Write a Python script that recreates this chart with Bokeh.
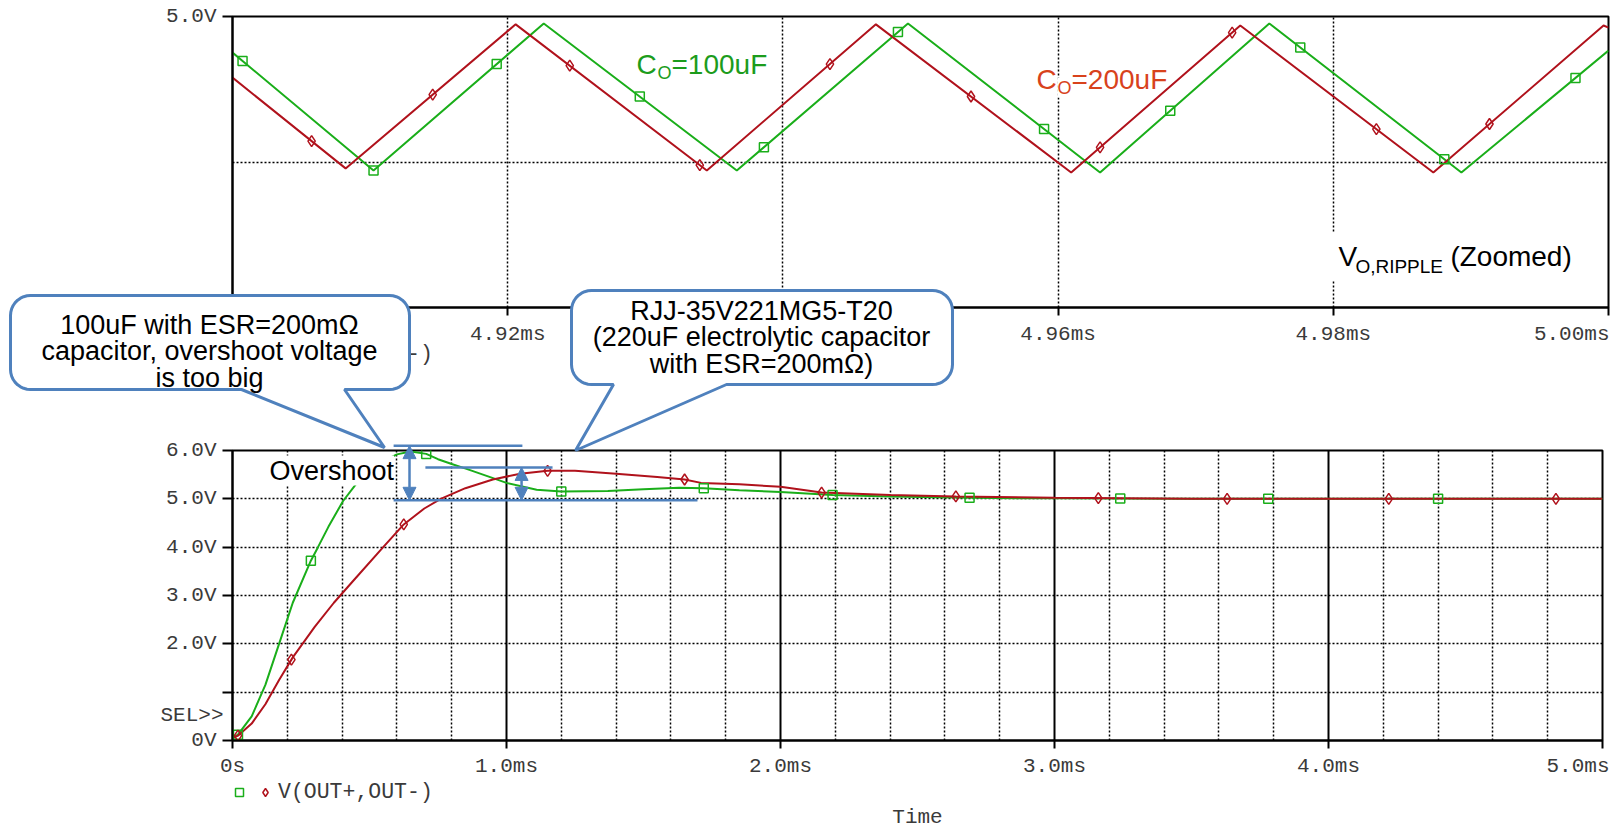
import numpy as np
from bokeh.plotting import figure
from bokeh.layouts import column
from bokeh.models import (Range1d, FixedTicker, Grid, Label, PolyAnnotation, Arrow,
                          NormalHead, Legend, LegendItem, PrintfTickFormatter)
from bokeh.embed import file_html
from bokeh.resources import INLINE

# ---------------- steady-state output ripple, 4.90 ms .. 5.00 ms ----------------
ripple_t_100uf = [4.900, 4.91025, 4.92262, 4.93665, 4.94909, 4.96305, 4.97535, 4.98931, 5.000]
ripple_v_100uf = [4.99876, 4.99471, 4.99976, 4.99471, 4.99976, 4.99464, 4.99976, 4.99464, 4.99883]
ripple_t_200uf = [4.900, 4.90822, 4.92058, 4.93447, 4.94676, 4.96095, 4.97324, 4.98727, 4.99964, 5.000]
ripple_v_200uf = [4.99790, 4.99478, 4.99973, 4.99471, 4.99973, 4.99464, 4.99969, 4.99464, 4.99969, 4.99962]
ripple_mark_t_100uf = [4.90073, 4.91025, 4.91920, 4.92960, 4.93862, 4.94836, 4.95898, 4.96815,
                       4.97760, 4.98807, 4.99760]
ripple_mark_t_200uf = [4.90575, 4.91455, 4.92451, 4.93396, 4.94342, 4.95367, 4.96305, 4.97265,
                       4.98313, 4.99135]
ripple_x_ticks = [4.90, 4.92, 4.94, 4.96, 4.98, 5.00]
ripple_y_ticks = [5.0]

# ---------------- start-up transient, 0 .. 5 ms ----------------
startup_t_100uf = [0.00, 0.02, 0.07, 0.12, 0.17, 0.22, 0.286, 0.312, 0.35, 0.403, 0.45, 0.50, 0.55,
                   0.60, 0.65, 0.707, 0.75, 0.80, 0.854, 0.93, 1.00, 1.11, 1.20, 1.37, 1.50, 1.63,
                   1.72, 1.85, 2.00, 2.19, 2.40, 2.69, 3.00, 3.50, 4.00, 5.00]
startup_v_100uf = [0.05, 0.12, 0.50, 1.15, 2.00, 2.85, 3.72, 4.00, 4.42, 4.95, 5.30, 5.58, 5.78,
                   5.92, 5.98, 5.93, 5.82, 5.72, 5.62, 5.47, 5.33, 5.19, 5.15, 5.16, 5.20, 5.23,
                   5.22, 5.18, 5.14, 5.08, 5.05, 5.02, 5.01, 5.00, 5.00, 5.00]
startup_t_200uf = [0.00, 0.02, 0.07, 0.12, 0.17, 0.22, 0.30, 0.37, 0.44, 0.55, 0.625, 0.70, 0.76,
                   0.85, 0.95, 1.05, 1.15, 1.25, 1.40, 1.55, 1.65, 1.71, 1.85, 2.00, 2.15, 2.40,
                   2.64, 3.00, 3.50, 4.00, 5.00]
startup_v_200uf = [0.05, 0.10, 0.35, 0.75, 1.25, 1.72, 2.35, 2.85, 3.30, 4.00, 4.47, 4.80, 5.00,
                   5.22, 5.40, 5.52, 5.58, 5.58, 5.52, 5.45, 5.40, 5.33, 5.30, 5.25, 5.13, 5.08,
                   5.05, 5.02, 5.00, 5.00, 5.00]
startup_mark_t_100uf = [0.02, 0.286, 0.707, 1.20, 1.72, 2.19, 2.69, 3.24, 3.78, 4.40]
startup_mark_t_200uf = [0.02, 0.215, 0.625, 1.15, 1.65, 2.15, 2.64, 3.16, 3.63, 4.22, 4.83]
startup_x_ticks = [0, 1, 2, 3, 4, 5]
startup_y_ticks = [0, 1, 2, 3, 4, 5, 6]

# overshoot levels marked by the annotation arrows (V) and the settled level
overshoot_100uf = 6.10
overshoot_200uf = 5.65
settled_level = 4.97

# ---------------- styling ----------------
GREEN = "#1aae1a"
RED = "#b0121c"
GREEN_TEXT = "#1c9c1c"
RED_TEXT = "#d8421c"
BLUE = "#4f81bd"
TICK_COLOR = "#3a3a3a"
MONO = "Liberation Mono"
MONO_SIZE = "21px"
LEGEND_SIZE = "21.5px"
SANS = "Liberation Sans"
W, H = 1610, 831

# frame geometry (page pixels)
TOP_H = 420
TOP_FRAME = dict(left=232, right=1608, top=16, bottom=307)
BOT_Y0 = 280            # page offset of the lower figure
BOT_H = H - BOT_Y0
BOT_FRAME = dict(left=232, right=1602, top=450, bottom=740)


def no_frame_align(fig):
    if hasattr(fig, "frame_align"):
        fig.frame_align = False


def style_axis(ax, tick_out, standoff):
    ax.axis_line_color = "black"
    ax.axis_line_width = 2
    ax.major_tick_line_color = "black"
    ax.major_tick_line_width = 2
    ax.major_tick_in = 0
    ax.major_tick_out = tick_out
    ax.minor_tick_line_color = None
    ax.major_label_text_font = MONO
    ax.major_label_text_font_size = MONO_SIZE
    ax.major_label_text_color = TICK_COLOR
    ax.major_label_standoff = standoff


def style_grid(g, ticks, dotted=True, width=1.5):
    g.ticker = FixedTicker(ticks=ticks)
    g.grid_line_color = "black"
    g.grid_line_width = width
    g.grid_line_dash = "2 2" if dotted else "solid"


def text_parts(fig, x, y, parts, color):
    # parts: (text, size, dx, dy, background, padding); y is the vertical centre of the main text
    for text, size, dx, dy, bg, pad in parts:
        fig.add_layout(Label(x=x, y=y, x_offset=dx, y_offset=dy, text=text,
                             text_font=SANS, text_font_size=f"{size}px",
                             text_color=color, text_baseline="middle",
                             background_fill_color=bg, padding=pad))


# ======================= zoomed ripple plot =======================
top = figure(frame_width=TOP_FRAME["right"] - TOP_FRAME["left"],
             frame_height=TOP_FRAME["bottom"] - TOP_FRAME["top"],
             x_range=Range1d(4.90, 5.00), y_range=Range1d(4.990, 5.000),
             output_backend="svg", toolbar_location=None,
             min_border_left=TOP_FRAME["left"], min_border_right=W - TOP_FRAME["right"],
             min_border_top=TOP_FRAME["top"], min_border_bottom=TOP_H - TOP_FRAME["bottom"],
             outline_line_color="black", outline_line_width=2,
             background_fill_color="white", border_fill_color="white")
no_frame_align(top)

style_axis(top.xaxis[0], 8, 7)
style_axis(top.yaxis[0], 10, 6)
top.xaxis.ticker = FixedTicker(ticks=ripple_x_ticks)
top.xaxis.formatter = PrintfTickFormatter(format="%.2fms")
top.xaxis.major_label_overrides = {5: ""}
top.yaxis.ticker = FixedTicker(ticks=ripple_y_ticks)
top.yaxis.formatter = PrintfTickFormatter(format="%.1fV")
style_grid(top.xgrid, ripple_x_ticks[1:-1])
style_grid(top.ygrid, [4.995])

top.line(ripple_t_100uf, ripple_v_100uf, line_color=GREEN, line_width=2)
top.line(ripple_t_200uf, ripple_v_200uf, line_color=RED, line_width=2)
top.scatter(ripple_mark_t_100uf, np.interp(ripple_mark_t_100uf, ripple_t_100uf, ripple_v_100uf),
            marker="square", size=9, fill_color=None, line_color=GREEN, line_width=1.5)
top.scatter(ripple_mark_t_200uf, np.interp(ripple_mark_t_200uf, ripple_t_200uf, ripple_v_200uf),
            marker="diamond", size=11, fill_color=None, line_color=RED, line_width=1.5)

# label anchors: ripple-plot data coordinates of each text's left/centre point
text_parts(top, 4.92936, 4.998350, [("C", 28, 0, 0, None, 0), ("O", 18, 21, -8, None, 0),
                                    ("=100uF", 28, 35, 0, None, 0)], GREEN_TEXT)
text_parts(top, 4.95843, 4.997835, [("O", 18, 21, -8, "white", 0), ("C", 28, 0, 0, "white", 0),
                                    ("=200uF", 28, 35, 0, None, 0)], RED_TEXT)
text_parts(top, 4.98037, 4.991753, [("V", 28, -9, 0, "white", 9), ("O,RIPPLE", 19, 17, -10, None, 0),
                                    ("(Zoomed)", 28, 112, 0, None, 0)], "black")

# ======================= start-up transient plot =======================
bot = figure(frame_width=BOT_FRAME["right"] - BOT_FRAME["left"],
             frame_height=BOT_FRAME["bottom"] - BOT_FRAME["top"],
             x_range=Range1d(0, 5), y_range=Range1d(0, 6),
             output_backend="svg", toolbar_location=None,
             min_border_left=BOT_FRAME["left"], min_border_right=W - BOT_FRAME["right"],
             min_border_top=BOT_FRAME["top"] - BOT_Y0,
             min_border_bottom=BOT_H - (BOT_FRAME["bottom"] - BOT_Y0),
             outline_line_color="black", outline_line_width=2,
             background_fill_color="white", border_fill_alpha=0)
no_frame_align(bot)
bot.margin = (BOT_Y0 - TOP_H, 0, 0, 0)

style_axis(bot.xaxis[0], 8, 6)
style_axis(bot.yaxis[0], 10, 6)
bot.xaxis.ticker = FixedTicker(ticks=startup_x_ticks)
bot.xaxis.formatter = PrintfTickFormatter(format="%.1fms")
bot.xaxis.major_label_overrides = {0: "0s", 5: ""}
bot.yaxis.ticker = FixedTicker(ticks=startup_y_ticks)
bot.yaxis.formatter = PrintfTickFormatter(format="%.1fV")
bot.yaxis.major_label_overrides = {0: "0V", 1: ""}

minor = [round(0.2 * i, 1) for i in range(1, 25) if i % 5]
style_grid(bot.xgrid, minor)
style_grid(bot.ygrid, startup_y_ticks[1:-1])
bot.add_layout(Grid(dimension=0, ticker=FixedTicker(ticks=startup_x_ticks[1:-1]),
                    grid_line_color="black", grid_line_width=2))

bot.line(startup_t_100uf, startup_v_100uf, line_color=GREEN, line_width=2)
bot.line(startup_t_200uf, startup_v_200uf, line_color=RED, line_width=2)
bot.scatter(startup_mark_t_100uf, np.interp(startup_mark_t_100uf, startup_t_100uf, startup_v_100uf),
            marker="square", size=9, fill_color=None, line_color=GREEN, line_width=1.5)
bot.scatter(startup_mark_t_200uf, np.interp(startup_mark_t_200uf, startup_t_200uf, startup_v_200uf),
            marker="diamond", size=11, fill_color=None, line_color=RED, line_width=1.5)

# ======================= annotation layers =======================
# Transparent figures over the whole page sharing the lower plot's scales, so that
# labels, legends and callouts can sit outside the plot frames.
MS_PER_PX = 5.0 / (BOT_FRAME["right"] - BOT_FRAME["left"])
V_PER_PX = 6.0 / (BOT_FRAME["bottom"] - BOT_FRAME["top"])


def to_t(px):
    return (px - BOT_FRAME["left"]) * MS_PER_PX


def to_v(py):
    return (BOT_FRAME["bottom"] - py) * V_PER_PX


def make_layer():
    layer = figure(frame_width=W, frame_height=H,
                   x_range=Range1d(to_t(0), to_t(W)), y_range=Range1d(to_v(H), to_v(0)),
                   x_axis_type=None, y_axis_type=None, output_backend="svg", toolbar_location=None,
                   min_border=0, min_border_left=0, min_border_right=0, min_border_top=0,
                   min_border_bottom=0, outline_line_color=None,
                   background_fill_alpha=0, border_fill_alpha=0)
    no_frame_align(layer)
    layer.margin = (-H, 0, 0, 0)
    return layer


over = make_layer()
notes = make_layer()


def mono_label(x, y, text, align="center", dx=0):
    over.add_layout(Label(x=x, y=y, x_offset=dx, text=text, text_align=align, text_baseline="middle",
                          text_font=MONO, text_font_size=MONO_SIZE, text_color=TICK_COLOR))


# legend swatches: renderers with a single undefined point carry the marker styles
leg_sq = over.scatter(x=np.array([np.nan]), y=np.array([np.nan]), marker="square", size=9,
                      fill_color=None, line_color=GREEN, line_width=1.5)
leg_di = over.scatter(x=np.array([np.nan]), y=np.array([np.nan]), marker="diamond", size=11,
                      fill_color=None, line_color=RED, line_width=1.5)


def add_legend(center_y):
    items = [LegendItem(label="", renderers=[leg_sq], index=0),
             LegendItem(label="V(OUT+,OUT-)", renderers=[leg_di], index=0)]
    over.add_layout(Legend(items=items, location=(BOT_FRAME["left"] - 3, H - center_y - 10),
                           orientation="horizontal", glyph_width=20, glyph_height=20,
                           label_width=0, label_height=20, label_standoff=3, spacing=3,
                           padding=0, margin=0, border_line_color=None, background_fill_alpha=0,
                           label_text_font=MONO, label_text_font_size=LEGEND_SIZE,
                           label_text_color=TICK_COLOR))


add_legend(356)     # legend row under the ripple plot
add_legend(794)     # legend row under the start-up plot

mono_label(to_t(W), to_v(334), "5.00ms", align="right", dx=-1)
mono_label(5.0, to_v(766), "5.0ms", align="right", dx=7)
mono_label(0.0, 0.52, "SEL>>", align="right", dx=-9)
mono_label(2.5, to_v(817), "Time")

# overshoot markers
for xa_, xb_, lvl in [(0.588, 1.058, overshoot_100uf), (0.704, 1.168, overshoot_200uf),
                      (0.588, 1.697, settled_level)]:
    over.add_layout(Arrow(x_start=xa_, y_start=lvl, x_end=xb_, y_end=lvl, start=None, end=None,
                          line_color=BLUE, line_width=2.5))
for xa_, lvl in [(0.646, overshoot_100uf), (1.055, overshoot_200uf)]:
    over.add_layout(Arrow(x_start=xa_, y_start=lvl, x_end=xa_, y_end=settled_level,
                          start=NormalHead(size=13, fill_color=BLUE, line_color=BLUE),
                          end=NormalHead(size=13, fill_color=BLUE, line_color=BLUE),
                          line_color=BLUE, line_width=2.5))

over.add_layout(Label(x=to_t(269), y=to_v(470), text="Overshoot", text_font=SANS,
                      text_font_size="27px", text_color="black", text_baseline="middle",
                      background_fill_color="white"))


def callout(x0, y0, x1, y1, r, base_a, base_b, tip):
    pts = []

    def arc(cx, cy, a0, a1):
        for a in np.linspace(a0, a1, 10):
            pts.append((cx + r * np.cos(a), cy + r * np.sin(a)))

    arc(x0 + r, y0 + r, np.pi, 1.5 * np.pi)
    arc(x1 - r, y0 + r, 1.5 * np.pi, 2 * np.pi)
    arc(x1 - r, y1 - r, 0, 0.5 * np.pi)
    pts += [(base_b, y1), tip, (base_a, y1)]
    arc(x0 + r, y1 - r, 0.5 * np.pi, np.pi)
    notes.add_layout(PolyAnnotation(xs=[to_t(p[0]) for p in pts], ys=[to_v(p[1]) for p in pts],
                                    xs_units="data", ys_units="data",
                                    fill_color="white", fill_alpha=1.0,
                                    line_color=BLUE, line_alpha=1.0, line_width=3))


def callout_text(cx, lines, y_first, step):
    for i, line in enumerate(lines):
        notes.add_layout(Label(x=to_t(cx), y=to_v(y_first + i * step), text=line,
                               text_align="center", text_baseline="middle", text_font=SANS,
                               text_font_size="27px", text_color="black"))


callout(10, 295, 409, 389, 20, 241, 344, (384, 447))
callout_text(209, ["100uF with ESR=200m\u03a9", "capacitor, overshoot voltage", "is too big"], 324, 26.5)
callout(571, 290, 952, 384, 20, 613, 726, (575, 450))
callout_text(761, ["RJJ-35V221MG5-T20", "(220uF electrolytic capacitor", "with ESR=200m\u03a9)"], 310, 26.5)

page = column(top, bot, over, notes, spacing=0)
open("out.html", "w").write(file_html(page, INLINE))
